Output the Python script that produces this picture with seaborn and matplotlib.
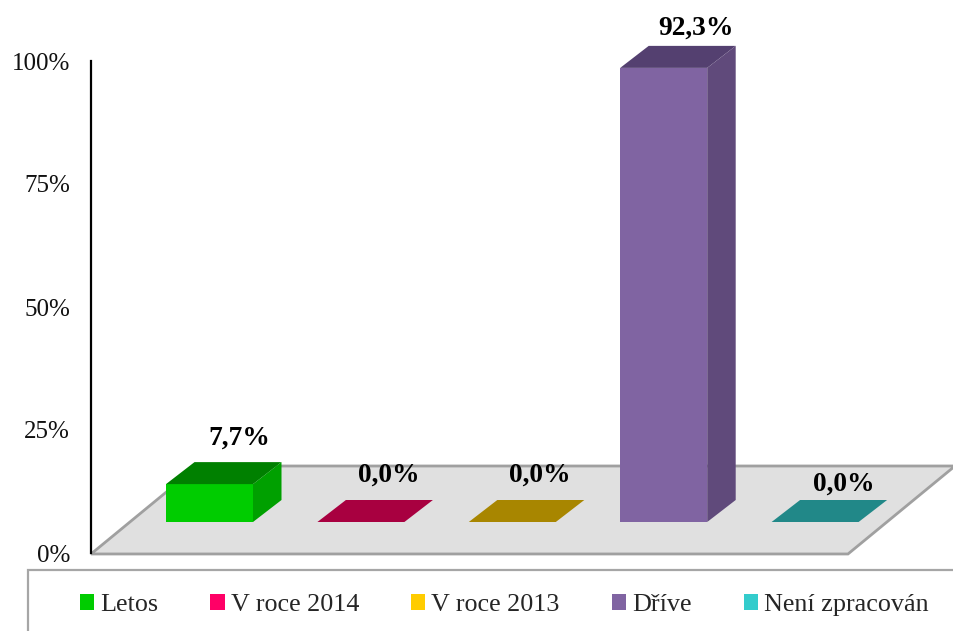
import matplotlib
matplotlib.use("Agg")
import matplotlib.pyplot as plt
from matplotlib.patches import Polygon, Rectangle
import seaborn as sns

categories = ["Letos", "V roce 2014", "V roce 2013", "Dříve", "Není zpracován"]
values = [7.7, 0.0, 0.0, 92.3, 0.0]
tick_values = [0, 25, 50, 75, 100]
tick_labels = ["0%", "25%", "50%", "75%", "100%"]

legend_colors = ["#00CC00", "#FF0066", "#FFCC00", "#8064A2", "#33CCCC"]
top_colors = ["#008000", "#A80040", "#A88600", "#544070", "#218888"]
side_colors = ["#00A000", "#A80040", "#A88600", "#604A7B", "#218888"]
label_lift = [24, 25, 25, 18, 16]
label_shift = [30, 28, 28, 32, 29]

W, H = 954, 631
PX_Y = 4.92          # pixels per percentage point
PX_X = 151.4         # pixels per category step
FLOOR = 31 / PX_Y    # front edge of bars above the chart origin
DX, DY = 28.5 / PX_X, 22 / PX_Y

sns.set_theme(style="white", rc={"font.family": ["Liberation Serif", "DejaVu Serif"]})
plt.rcParams["font.family"] = ["Liberation Serif", "DejaVu Serif"]

fig = plt.figure(figsize=(W / 100, H / 100), dpi=100, facecolor="white")
ax = fig.add_axes([91 / W, 0, (W - 91) / W, 1])
ax.patch.set_alpha(0)

sns.barplot(x=categories, y=values, hue=categories, palette=legend_colors,
            dodge=False, width=87 / PX_X, bottom=FLOOR, legend=False,
            saturation=1, linewidth=0, ax=ax, zorder=3, errorbar=None)
bars = sorted(ax.patches, key=lambda p: p.get_x())

x_left, x_right = (91 - 209.5) / PX_X, (W - 209.5) / PX_X
ax.set_xlim(x_left, x_right)
ax.set_ylim((553 - H) / PX_Y, 553 / PX_Y)

# floor of the pseudo-3D chart
floor_right = (848 - 209.5) / PX_X
floor_dx, floor_dy = 107 / PX_X, 87 / PX_Y
ax.add_patch(Polygon([(x_left, -0.2), (floor_right, -0.2),
                      (floor_right + floor_dx, floor_dy),
                      (x_left + floor_dx, floor_dy)],
                     closed=True, facecolor="#E0E0E0", edgecolor="#A0A0A0",
                     linewidth=2, zorder=1, clip_on=False))

# top and side faces derived from the bars' own geometry
for bar, val, top, side, lift, shift in zip(bars, values, top_colors, side_colors,
                                            label_lift, label_shift):
    x0, x1 = bar.get_x(), bar.get_x() + bar.get_width()
    y0, y1 = FLOOR, FLOOR + val
    ax.add_patch(Polygon([(x0, y1), (x1, y1), (x1 + DX, y1 + DY), (x0 + DX, y1 + DY)],
                         closed=True, facecolor=top, edgecolor="none", zorder=4))
    if val > 0:
        ax.add_patch(Polygon([(x1, y0), (x1 + DX, y0 + DY), (x1 + DX, y1 + DY), (x1, y1)],
                             closed=True, facecolor=side, edgecolor="none", zorder=4))
    ax.text((x0 + x1) / 2 + shift / PX_X, y1 + DY + lift / PX_Y,
            f"{val:.1f}%".replace(".", ","), ha="center", va="center",
            fontsize=19.8, fontweight="bold", color="black", zorder=5)

ax.set_xticks([])
ax.set_xlabel("")
ax.set_yticks(tick_values)
ax.set_yticklabels(tick_labels, fontsize=18, color="#111111")
ax.tick_params(axis="y", length=0, pad=15)
for name in ("top", "right", "bottom"):
    ax.spines[name].set_visible(False)
ax.spines["left"].set_bounds(0, 100)
ax.spines["left"].set_color("black")
ax.spines["left"].set_linewidth(1.6)

# legend box, running off the right and bottom of the picture
fig.add_artist(Rectangle((28 / W, -0.05), 1.1, (H - 570) / H + 0.05,
                         transform=fig.transFigure, facecolor="white",
                         edgecolor="#A6A6A6", linewidth=1.6, zorder=6))
handles = [Rectangle((0, 0), 1, 1, facecolor=c, edgecolor="none") for c in legend_colors]
leg = fig.legend(handles, categories, ncols=5, frameon=False, fontsize=18.8,
                 loc="center left", bbox_to_anchor=(80 / W, (H - 605) / H),
                 handlelength=0.54, handleheight=0.54, handletextpad=0.23,
                 columnspacing=2.0, borderpad=0, borderaxespad=0)
leg.set_zorder(7)

fig.savefig("out.png", dpi=100)
